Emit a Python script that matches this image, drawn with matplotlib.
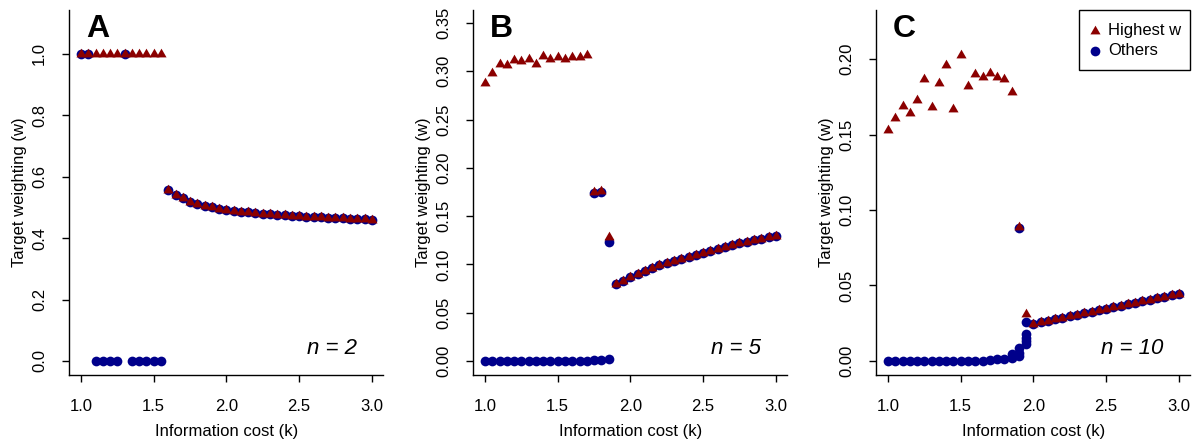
import matplotlib
matplotlib.use("Agg")
import matplotlib.pyplot as plt
from matplotlib.patches import Rectangle
from matplotlib.path import Path

plt.rcParams['font.family'] = ['Liberation Sans', 'DejaVu Sans']

# Information cost grid shared by all panels
cost_k = [1.00, 1.05, 1.10, 1.15, 1.20, 1.25, 1.30, 1.35, 1.40, 1.45,
          1.50, 1.55, 1.60, 1.65, 1.70, 1.75, 1.80, 1.85, 1.90, 1.95,
          2.00, 2.05, 2.10, 2.15, 2.20, 2.25, 2.30, 2.35, 2.40, 2.45,
          2.50, 2.55, 2.60, 2.65, 2.70, 2.75, 2.80, 2.85, 2.90, 2.95,
          3.00]

# ---- n = 2 ----
highest_A = [1.0, 1.0, 1.0, 1.0, 1.0, 1.0, 1.0, 1.0, 1.0, 1.0, 1.0, 1.0,
             0.555, 0.541, 0.529, 0.519, 0.511, 0.505, 0.500, 0.496, 0.492,
             0.489, 0.486, 0.484, 0.482, 0.480, 0.478, 0.476, 0.475, 0.473,
             0.472, 0.470, 0.469, 0.468, 0.467, 0.466, 0.464, 0.463, 0.462,
             0.461, 0.459]
others_A_k = cost_k
others_A_w = [1.0, 1.0, 0.0, 0.0, 0.0, 0.0, 1.0, 0.0, 0.0, 0.0, 0.0, 0.0,
              0.555, 0.541, 0.529, 0.519, 0.511, 0.505, 0.500, 0.496, 0.492,
              0.489, 0.486, 0.484, 0.482, 0.480, 0.478, 0.476, 0.475, 0.473,
              0.472, 0.470, 0.469, 0.468, 0.467, 0.466, 0.464, 0.463, 0.462,
              0.461, 0.459]

# ---- n = 5 ----
highest_B = [0.288, 0.298, 0.308, 0.307, 0.312, 0.311, 0.313, 0.308, 0.316,
             0.313, 0.315, 0.313, 0.315, 0.315, 0.317, 0.175, 0.1765, 0.128,
             0.080, 0.083, 0.087, 0.090, 0.093, 0.096, 0.099, 0.101, 0.104,
             0.106, 0.108, 0.110, 0.112, 0.114, 0.116, 0.118, 0.120, 0.122,
             0.123, 0.125, 0.126, 0.128, 0.129]
others_B_k = [1.00, 1.05, 1.10, 1.15, 1.20, 1.25, 1.30, 1.35, 1.40, 1.45,
              1.50, 1.55, 1.60, 1.65, 1.70, 1.75, 1.80, 1.85,
              1.75, 1.80, 1.85,
              1.90, 1.95, 2.00, 2.05, 2.10, 2.15, 2.20, 2.25, 2.30, 2.35,
              2.40, 2.45, 2.50, 2.55, 2.60, 2.65, 2.70, 2.75, 2.80, 2.85,
              2.90, 2.95, 3.00]
others_B_w = [0.0, 0.0, 0.0, 0.0, 0.0, 0.0, 0.0, 0.0, 0.0, 0.0,
              0.0, 0.0, 0.0, 0.0, 0.0, 0.0005, 0.001, 0.0025,
              0.1735, 0.1755, 0.1235,
              0.080, 0.083, 0.087, 0.090, 0.093, 0.096, 0.099, 0.101, 0.104,
              0.106, 0.108, 0.110, 0.112, 0.114, 0.116, 0.118, 0.120, 0.122,
              0.123, 0.125, 0.126, 0.128, 0.129]

# ---- n = 10 ----
highest_C = [0.153, 0.161, 0.169, 0.164, 0.173, 0.187, 0.168, 0.184, 0.196,
             0.167, 0.203, 0.182, 0.190, 0.188, 0.191, 0.188, 0.187, 0.1785,
             0.089, 0.031,
             0.0245, 0.0255, 0.0266, 0.0276, 0.0286, 0.0296, 0.0306, 0.0316,
             0.0326, 0.0336, 0.0346, 0.0356, 0.0366, 0.0376, 0.0386, 0.0396,
             0.0406, 0.0416, 0.0426, 0.0435, 0.0445]
others_C_k = [1.00, 1.05, 1.10, 1.15, 1.20, 1.25, 1.30, 1.35, 1.40, 1.45,
              1.50, 1.55, 1.60, 1.65, 1.70, 1.75, 1.80,
              1.85, 1.85,
              1.90, 1.90, 1.90, 1.90,
              1.95, 1.95, 1.95, 1.95, 1.95,
              2.00, 2.05, 2.10, 2.15, 2.20, 2.25, 2.30, 2.35, 2.40, 2.45,
              2.50, 2.55, 2.60, 2.65, 2.70, 2.75, 2.80, 2.85, 2.90, 2.95,
              3.00]
others_C_w = [0.0, 0.0, 0.0, 0.0, 0.0, 0.0, 0.0, 0.0, 0.0, 0.0,
              0.0, 0.0, 0.0, 0.0, 0.0005, 0.001, 0.0015,
              0.002, 0.0045,
              0.003, 0.0055, 0.0085, 0.088,
              0.011, 0.013, 0.0155, 0.018, 0.026,
              0.0245, 0.0255, 0.0266, 0.0276, 0.0286, 0.0296, 0.0306, 0.0316,
              0.0326, 0.0336, 0.0346, 0.0356, 0.0366, 0.0376, 0.0386, 0.0396,
              0.0406, 0.0416, 0.0426, 0.0435, 0.0445]

panel_letters = ["A", "B", "C"]
group_sizes = ["2", "5", "10"]
legend_labels = ["Highest w", "Others"]
y_ticks = [[0.0, 0.2, 0.4, 0.6, 0.8, 1.0],
           [0.00, 0.05, 0.10, 0.15, 0.20, 0.25, 0.30, 0.35],
           [0.00, 0.05, 0.10, 0.15, 0.20]]
y_tick_fmt = ["{:.1f}", "{:.2f}", "{:.2f}"]
y_limits = [(-0.044, 1.144), (-0.014, 0.364), (-0.009, 0.2329)]
x_ticks = [1.0, 1.5, 2.0, 2.5, 3.0]

highest_all = [highest_A, highest_B, highest_C]
others_all = [(others_A_k, others_A_w), (others_B_k, others_B_w),
              (others_C_k, others_C_w)]

RED = "#8B0000"
BLUE = "#00008B"

# filled triangle centred on its centroid (apex higher than the base is low)
TRI = Path([(0.0, 1.5551), (1.3468, -0.7776), (-1.3468, -0.7776), (0.0, 1.5551)],
           [Path.MOVETO, Path.LINETO, Path.LINETO, Path.CLOSEPOLY])
TRI_MS = 8.4
DOT_MS = 7.0

W, H = 1198, 441
fig = plt.figure(figsize=(W / 100, H / 100), dpi=100)
lefts = [69.4, 473.4, 876.4]


def draw_key(ax):
    """Boxed key in the top-right corner of the panel (axes coordinates)."""
    ax.add_patch(Rectangle((0.645, 0.834), 0.355, 0.166, transform=ax.transAxes,
                           facecolor="white", edgecolor="black", linewidth=1.0,
                           zorder=5, clip_on=False))
    styles = [dict(marker=TRI, markersize=TRI_MS, color=RED),
              dict(marker="o", markersize=DOT_MS, color=BLUE)]
    rows_y = [0.942, 0.887]
    for style, label, yy in zip(styles, legend_labels, rows_y):
        ax.plot([0.697], [yy], transform=ax.transAxes, linestyle="none",
                markeredgewidth=0, zorder=6, clip_on=False, **style)
        ax.text(0.738, yy, label, transform=ax.transAxes, fontsize=12,
                ha="left", va="center", zorder=6)


for i in range(3):
    ax = fig.add_axes([lefts[i] / W, 66.5 / H, 314 / W, 365 / H])
    ok, ow = others_all[i]
    ax.plot(ok, ow, linestyle="none", marker="o", markersize=DOT_MS,
            color=BLUE, markeredgewidth=0, zorder=2)
    ax.plot(cost_k, highest_all[i], linestyle="none", marker=TRI,
            markersize=TRI_MS, color=RED, markeredgewidth=0, zorder=3)

    ax.set_xlim(0.92, 3.08)
    ax.set_ylim(*y_limits[i])
    ax.set_xticks(x_ticks)
    ax.set_xticklabels(["{:.1f}".format(v) for v in x_ticks])
    ax.set_yticks(y_ticks[i])
    ax.set_yticklabels([y_tick_fmt[i].format(v) for v in y_ticks[i]],
                       rotation=90, va="center")
    for s in ("top", "right"):
        ax.spines[s].set_visible(False)
    for s in ("left", "bottom"):
        ax.spines[s].set_linewidth(1.0)
    ax.tick_params(axis="both", direction="out", length=5, width=1.0,
                   labelsize=12)
    ax.tick_params(axis="x", pad=12.5)
    ax.tick_params(axis="y", pad=11)
    ax.set_xlabel("Information cost (k)", fontsize=12, labelpad=7)
    ax.set_ylabel("Target weighting (w)", fontsize=12, labelpad=4)

    ax.text(0.052, 0.988, panel_letters[i], transform=ax.transAxes,
            fontsize=23, fontweight="bold", ha="left", va="top")
    ax.text(0.915, 0.055, "n = " + group_sizes[i],
            transform=ax.transAxes, fontsize=16, ha="right", va="baseline",
            style="italic")

    if i == 2:
        draw_key(ax)

fig.savefig("out.png", dpi=100)
